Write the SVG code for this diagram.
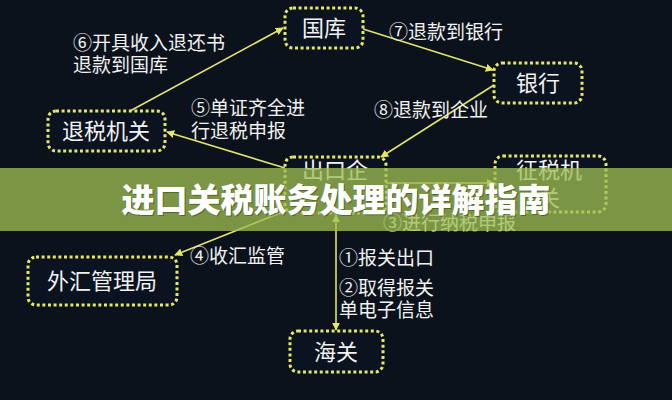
<svg xmlns="http://www.w3.org/2000/svg" width="672" height="400" viewBox="0 0 672 400">
<defs>
<style>
.box{fill:#0b1320;stroke:#e2e86a;stroke-width:3;stroke-dasharray:3 2.6;}
.nt{fill:#f2f2f2;font-family:"Noto Sans CJK SC","Microsoft YaHei",sans-serif;font-size:22px;text-anchor:middle;}
.lb{fill:#f2f2f2;font-family:"Noto Sans CJK SC",sans-serif;font-size:19px;}
.cn{stroke:#dfe46e;stroke-width:1.6;fill:none;marker-end:url(#ah);}
</style>
<marker id="ah" viewBox="0 0 10 10" refX="9" refY="5" markerWidth="8" markerHeight="8" markerUnits="userSpaceOnUse" orient="auto-start-reverse">
<path d="M0,0 L10,5 L0,10 z" fill="#e6ea5a"/>
</marker>
</defs>
<rect width="672" height="400" fill="#0b121c"/>
<g id="connectors">
<line class="cn" x1="130" y1="111" x2="283" y2="28"/>
<line class="cn" x1="363" y1="29" x2="493" y2="70"/>
<line class="cn" x1="494" y1="85" x2="381" y2="157"/>
<line class="cn" x1="285" y1="168" x2="167" y2="132"/>
<line class="cn" x1="285" y1="211" x2="175" y2="255"/>
<line class="cn" x1="386" y1="183" x2="494" y2="183"/>
<line class="cn" x1="336" y1="215" x2="336" y2="330" style="marker-start:url(#ah)"/>
</g>
<g id="guoku"><rect class="box" x="285" y="8" width="78" height="40" rx="8"/><text class="nt" x="324" y="36">国库</text></g>
<g id="yinhang"><rect class="box" x="494" y="63" width="88" height="40" rx="8"/><text class="nt" x="538" y="91">银行</text></g>
<g id="tuishui"><rect class="box" x="48" y="111" width="117" height="40" rx="8"/><text class="nt" x="106" y="139">退税机关</text></g>
<g id="chukou"><rect class="box" x="285" y="157" width="101" height="56" rx="8"/><text class="nt" x="335" y="178">出口企</text></g>
<g id="zhengshui"><rect class="box" x="495" y="156" width="111" height="56" rx="8"/><text class="nt" x="549" y="178">征税机</text><text class="nt" x="549" y="206">关</text></g>
<g id="waihui"><rect class="box" x="28" y="257" width="149" height="48" rx="8"/><text class="nt" x="102" y="289">外汇管理局</text></g>
<g id="haiguan"><rect class="box" x="290" y="331" width="93" height="41" rx="8"/><text class="nt" x="336" y="360">海关</text></g>
<g id="labels">
<text class="lb" x="73" y="50">⑥开具收入退还书</text>
<text class="lb" x="73" y="72">退款到国库</text>
<text class="lb" x="191" y="115">⑤单证齐全进</text>
<text class="lb" x="191" y="138">行退税申报</text>
<text class="lb" x="389" y="39">⑦退款到银行</text>
<text class="lb" x="374" y="117">⑧退款到企业</text>
<text class="lb" x="190" y="263">④收汇监管</text>
<text class="lb" x="383" y="230">③进行纳税申报</text>
<text class="lb" x="339" y="265">①报关出口</text>
<text class="lb" x="339" y="295">②取得报关</text>
<text class="lb" x="339" y="317">单电子信息</text>
</g>
<g id="banner">
<rect x="0" y="168" width="672" height="63" fill="#9fbe53" opacity="0.76"/>
<text x="337" y="213" fill="#2c3a18" opacity="0.5" font-family="Noto Sans CJK SC,sans-serif" font-size="33" font-weight="900" text-anchor="middle">进口关税账务处理的详解指南</text>
<text x="336" y="212" fill="#ffffff" font-family="Noto Sans CJK SC,sans-serif" font-size="33" font-weight="900" text-anchor="middle">进口关税账务处理的详解指南</text>
</g>
</svg>
